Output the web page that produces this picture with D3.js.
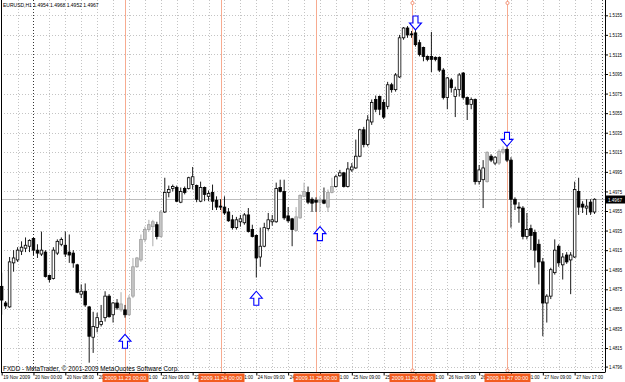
<!DOCTYPE html>
<html>
<head>
<meta charset="utf-8">
<script src="https://cdnjs.cloudflare.com/ajax/libs/d3/7.8.5/d3.min.js"></script>
<style>
body{margin:0;background:#fff;}
svg{display:block;font-family:"Liberation Sans",Arial,sans-serif;}
</style>
</head>
<body>
<svg id="chart" width="625" height="382"></svg>
<script>
// EURUSD H1, 19 Nov 16:00 .. 27 Nov 21:00 (one entry per bar)
var opens = [1.4878,1.4861,1.4857,1.4902,1.4905,1.4914,1.4917,1.4919,1.4927,1.4915,
1.4911,1.4913,1.4889,1.4886,1.4912,1.4921,1.4920,1.4913,1.4912,1.4900,
1.4870,1.4873,1.4857,1.4826,1.4836,1.4839,1.4846,1.4868,1.4849,1.4861,
1.4854,1.4854,1.4849,1.4868,1.4898,1.4905,1.4926,1.4936,1.4939,1.4941,
1.4929,1.4954,1.4974,1.4978,1.4979,1.4964,1.4978,1.4978,1.4982,1.4981,
1.4965,1.4979,1.4970,1.4974,1.4966,1.4960,1.4959,1.4954,1.4946,1.4938,
1.4944,1.4943,1.4951,1.4936,1.4930,1.4908,1.4919,1.4937,1.4944,1.4944,
1.4979,1.4975,1.4950,1.4947,1.4935,1.4948,1.4970,1.4974,1.4967,1.4966,
1.4964,1.4966,1.4959,1.4974,1.4980,1.4991,1.4994,1.4980,1.4997,1.4999,
1.5011,1.5038,1.5023,1.5046,1.5069,1.5072,1.5066,1.5062,1.5084,1.5079,
1.5092,1.5132,1.5142,1.5136,1.5137,1.5127,1.5122,1.5113,1.5113,1.5112,
1.5112,1.5099,1.5071,1.5089,1.5072,1.5079,1.5096,1.5071,1.5064,1.5069,
1.4985,1.4987,1.4985,1.5011,1.5004,1.5004,1.5015,1.5018,1.5007,1.4967,
1.4959,1.4958,1.4929,1.4937,1.4933,1.4921,1.4903,1.4861,1.4868,1.4892,
1.4919,1.4900,1.4910,1.4905,1.4908,1.4975,1.4962,1.4958,1.4964,1.4954];
var highs = [1.4892,1.4863,1.4908,1.4915,1.4918,1.4924,1.4928,1.4926,1.4928,1.4921,
1.4934,1.4915,1.4890,1.4918,1.4926,1.4928,1.4934,1.4931,1.4915,1.4901,
1.4880,1.4881,1.4858,1.4852,1.4851,1.4859,1.4873,1.4870,1.4862,1.4865,
1.4872,1.4859,1.4869,1.4907,1.4908,1.4931,1.4939,1.4946,1.4946,1.4944,
1.4956,1.4989,1.4981,1.4982,1.4981,1.4979,1.4980,1.4990,1.5000,1.4982,
1.4985,1.4980,1.4976,1.4982,1.4970,1.4967,1.4970,1.4958,1.4951,1.4949,
1.4951,1.4953,1.4958,1.4941,1.4931,1.4938,1.4943,1.4953,1.4951,1.4984,
1.4987,1.4987,1.4959,1.4948,1.4959,1.4972,1.4984,1.4980,1.4969,1.4969,
1.4970,1.4979,1.4977,1.4989,1.4992,1.4997,1.4995,1.5005,1.5004,1.5028,
1.5039,1.5041,1.5053,1.5069,1.5073,1.5073,1.5069,1.5087,1.5086,1.5096,
1.5135,1.5143,1.5144,1.5139,1.5140,1.5130,1.5123,1.5114,1.5138,1.5113,
1.5113,1.5101,1.5092,1.5091,1.5082,1.5096,1.5097,1.5072,1.5071,1.5070,
1.5002,1.5007,1.5016,1.5013,1.5011,1.5018,1.5021,1.5020,1.5010,1.4969,
1.4964,1.4960,1.4953,1.4941,1.4936,1.4926,1.4907,1.4870,1.4897,1.4926,
1.4921,1.4912,1.4913,1.4913,1.4985,1.4989,1.4965,1.4967,1.4967,1.4968];
var lows = [1.4849,1.4855,1.4856,1.4893,1.4903,1.4910,1.4913,1.4913,1.4910,1.4907,
1.4909,1.4887,1.4882,1.4885,1.4910,1.4919,1.4908,1.4902,1.4897,1.4871,
1.4866,1.4857,1.4800,1.4810,1.4831,1.4837,1.4842,1.4846,1.4841,1.4854,
1.4852,1.4846,1.4848,1.4866,1.4897,1.4903,1.4923,1.4934,1.4919,1.4926,
1.4928,1.4953,1.4969,1.4975,1.4964,1.4963,1.4972,1.4977,1.4977,1.4964,
1.4964,1.4965,1.4965,1.4956,1.4956,1.4956,1.4951,1.4944,1.4936,1.4936,
1.4939,1.4941,1.4933,1.4928,1.4887,1.4898,1.4918,1.4935,1.4940,1.4943,
1.4974,1.4946,1.4943,1.4919,1.4934,1.4947,1.4969,1.4962,1.4954,1.4954,
1.4954,1.4962,1.4954,1.4973,1.4979,1.4990,1.4979,1.4979,1.4995,1.4998,
1.5010,1.5020,1.5021,1.5043,1.5056,1.5053,1.5049,1.5059,1.5076,1.5077,
1.5091,1.5130,1.5132,1.5132,1.5123,1.5113,1.5108,1.5108,1.5097,1.5108,
1.5097,1.5069,1.5059,1.5076,1.5051,1.5072,1.5069,1.5048,1.5059,1.4982,
1.4982,1.4958,1.4984,1.5005,1.5002,1.5002,1.5013,1.5005,1.4938,1.4956,
1.4943,1.4926,1.4926,1.4915,1.4897,1.4880,1.4827,1.4841,1.4865,1.4890,
1.4898,1.4885,1.4901,1.4870,1.4907,1.4951,1.4953,1.4951,1.4951,1.4952];
var closes = [1.4864,1.4858,1.4903,1.4907,1.4915,1.4918,1.4920,1.4925,1.4915,1.4912,
1.4915,1.4888,1.4885,1.4915,1.4924,1.4926,1.4911,1.4910,1.4902,1.4872,
1.4873,1.4859,1.4827,1.4837,1.4846,1.4842,1.4868,1.4847,1.4861,1.4856,
1.4860,1.4849,1.4866,1.4898,1.4907,1.4926,1.4936,1.4941,1.4944,1.4929,
1.4954,1.4974,1.4977,1.4980,1.4965,1.4975,1.4974,1.4989,1.4990,1.4967,
1.4979,1.4972,1.4973,1.4965,1.4959,1.4959,1.4953,1.4945,1.4938,1.4946,
1.4947,1.4951,1.4934,1.4929,1.4907,1.4919,1.4938,1.4946,1.4946,1.4978,
1.4975,1.4948,1.4945,1.4936,1.4949,1.4971,1.4975,1.4964,1.4963,1.4964,
1.4966,1.4963,1.4974,1.4980,1.4990,1.4994,1.4980,1.4998,1.5000,1.5011,
1.5038,1.5023,1.5048,1.5066,1.5059,1.5059,1.5051,1.5084,1.5079,1.5094,
1.5132,1.5142,1.5135,1.5135,1.5125,1.5115,1.5113,1.5110,1.5110,1.5110,
1.5099,1.5071,1.5091,1.5081,1.5079,1.5094,1.5071,1.5064,1.5069,1.4985,
1.4997,1.4999,1.5015,1.5007,1.5010,1.5016,1.5018,1.5007,1.4967,1.4962,
1.4958,1.4929,1.4936,1.4930,1.4915,1.4903,1.4861,1.4868,1.4895,1.4915,
1.4902,1.4908,1.4903,1.4910,1.4977,1.4959,1.4959,1.4960,1.4954,1.4967];
// bars painted grey on the chart
var grayBars = [30,32,33,34,35,36,37,38,40,74,75,76,80,82,83,122,125,126];

var timeLabels = ["19 Nov 2009","20 Nov 00:00","20 Nov 08:00","20 Nov 16:00","23 Nov 01:00",
"23 Nov 09:00","23 Nov 17:00","24 Nov 01:00","24 Nov 09:00","24 Nov 17:00","25 Nov 01:00",
"25 Nov 09:00","25 Nov 17:00","26 Nov 01:00","26 Nov 09:00","26 Nov 17:00","27 Nov 01:00",
"27 Nov 09:00","27 Nov 17:00"];
var labelBars = [0,8,16,24,32,40,48,56,64,72,80,88,96,104,112,120,128,136,144];
var gridBars = [4,8,12,16,20,24,28,32,36,40,44,48,52,56,60,64,68,72,76,80,84,88,92,96,
100,104,108,112,116,120,124,128,132,136,140,144,148];
var priceTicks = [1.5155,1.5135,1.5115,1.5095,1.5075,1.5055,1.5035,1.5015,1.4995,1.4975,
1.4955,1.4935,1.4915,1.4895,1.4875,1.4855,1.4835,1.4815,1.4796];
var daySeps = [8];
var lineBars = [31,55,79,103,127];
var lineLabels = ["2009.11.23 00:00","2009.11.24 00:00","2009.11.25 00:00","2009.11.26 00:00","2009.11.27 00:00"];
var arrowBars = [31,64,80,104,127];
var arrowDirs = ["up","up","up","down","down"];
var arrowTips = [1.4829,1.4873,1.4939,1.5140,1.5021];
var lastPrice = 1.4967;
var header = "EURUSD,H1  1.4954 1.4968 1.4952 1.4967";
var copyright = "FXDD - MetaTrader, \u00a9 2001-2009 MetaQuotes Software Corp.";

var svg = d3.select("#chart");
var right = 605, bottom = 372.5;

var x = d3.scaleLinear().domain([31,127]).range([125,507]);
var y = d3.scaleLinear().domain([1.4815,1.5155]).range([348,15.3]);

var bars = d3.range(opens.length).map(function(i){
  return {i:i, o:opens[i], h:highs[i], l:lows[i], c:closes[i], gray:grayBars.indexOf(i)>=0};
});

// grid
svg.append("g").selectAll("line").data(priceTicks).enter().append("line")
  .attr("x1",1).attr("x2",right).attr("y1",function(d){return Math.round(y(d))+0.5;})
  .attr("y2",function(d){return Math.round(y(d))+0.5;})
  .attr("stroke","#c4c4c4").attr("stroke-dasharray","1,2");
svg.append("g").selectAll("line").data(gridBars).enter().append("line")
  .attr("x1",function(d){return Math.round(x(d))+0.5;}).attr("x2",function(d){return Math.round(x(d))+0.5;})
  .attr("y1",0).attr("y2",bottom)
  .attr("stroke","#c4c4c4").attr("stroke-dasharray","1,2");
svg.append("g").selectAll("line").data(daySeps).enter().append("line")
  .attr("x1",function(d){return Math.round(x(d))+0.5;}).attr("x2",function(d){return Math.round(x(d))+0.5;})
  .attr("y1",0).attr("y2",bottom)
  .attr("stroke","#333").attr("stroke-dasharray","1,2");
svg.append("line").attr("x1",602.5).attr("x2",602.5).attr("y1",0).attr("y2",bottom)
  .attr("stroke","#555").attr("stroke-dasharray","1,2");

// bid line
svg.append("line").attr("x1",1).attr("x2",right).attr("y1",Math.round(y(lastPrice))+0.5)
  .attr("y2",Math.round(y(lastPrice))+0.5).attr("stroke","#bdbdbd");

// vertical marker lines
svg.append("g").selectAll("line").data(lineBars).enter().append("line")
  .attr("x1",function(d){return Math.round(x(d))+0.5;}).attr("x2",function(d){return Math.round(x(d))+0.5;})
  .attr("y1",0).attr("y2",bottom).attr("stroke","#f7ab90");
svg.append("g").selectAll("circle").data(lineBars.slice(3)).enter().append("circle")
  .attr("cx",function(d){return Math.round(x(d))+0.5;}).attr("cy",3).attr("r",1.6)
  .attr("fill","#fff").attr("stroke","#f08060").attr("stroke-width",0.8);
svg.append("g").selectAll("circle").data(lineBars.slice(3)).enter().append("circle")
  .attr("cx",function(d){return Math.round(x(d))+0.5;}).attr("cy",bottom-2).attr("r",1.6)
  .attr("fill","#fff").attr("stroke","#f08060").attr("stroke-width",0.8);

// candles
var cg = svg.append("g");
cg.selectAll("line").data(bars).enter().append("line")
  .attr("x1",function(d){return x(d.i);}).attr("x2",function(d){return x(d.i);})
  .attr("y1",function(d){return y(d.h);}).attr("y2",function(d){return y(d.l);})
  .attr("stroke",function(d){return d.gray?"#a2a2a2":"#000";}).attr("stroke-width",0.9);
cg.selectAll("rect").data(bars).enter().append("rect")
  .attr("x",function(d){return x(d.i)-1.3;}).attr("width",2.6)
  .attr("y",function(d){return y(Math.max(d.o,d.c));})
  .attr("height",function(d){return Math.max(0.4,Math.abs(y(d.o)-y(d.c)));})
  .attr("fill",function(d){ if(d.gray) return "#c6c6c6"; return d.c>=d.o?"#fff":"#000";})
  .attr("stroke",function(d){return d.gray?"#9e9e9e":"#000";}).attr("stroke-width",0.8);

// arrows
function arrowPath(cx,tip,dir){
  var s = dir==="up"?1:-1;
  return "M"+cx+","+tip+"L"+(cx+6)+","+(tip+7*s)+"L"+(cx+2.5)+","+(tip+7*s)+"L"+(cx+2.5)+","+(tip+14*s)+
    "L"+(cx-2.5)+","+(tip+14*s)+"L"+(cx-2.5)+","+(tip+7*s)+"L"+(cx-6)+","+(tip+7*s)+"Z";
}
svg.append("g").selectAll("path").data(arrowBars).enter().append("path")
  .attr("d",function(d,k){return arrowPath(x(d),y(arrowTips[k]),arrowDirs[k]);})
  .attr("fill","#fff").attr("stroke","#0000ff").attr("stroke-width",1.1);

// price axis
var ya = svg.append("g").attr("transform","translate("+right+",0)")
  .call(d3.axisRight(y).tickValues(priceTicks).tickSize(3).tickPadding(1).tickFormat(d3.format(".4f")));
ya.select(".domain").remove();
ya.selectAll("text").attr("font-size",5.2).attr("font-family","Liberation Sans,Arial,sans-serif")
  .attr("textLength",13).attr("lengthAdjust","spacingAndGlyphs");

// time axis
var xa = svg.append("g").attr("transform","translate(0,"+bottom+")")
  .call(d3.axisBottom(x).tickValues(labelBars).tickSize(3).tickFormat(function(d,k){return timeLabels[k];}));
xa.select(".domain").remove();
xa.selectAll("text").attr("font-size",5.2).attr("font-family","Liberation Sans,Arial,sans-serif")
  .attr("text-anchor","start").attr("dx",1).attr("y",3).attr("dy","0.71em")
  .attr("textLength",27).attr("lengthAdjust","spacingAndGlyphs");

// frame
svg.append("line").attr("x1",1.5).attr("x2",1.5).attr("y1",0).attr("y2",bottom).attr("stroke","#000");
svg.append("line").attr("x1",right+0.5).attr("x2",right+0.5).attr("y1",0).attr("y2",bottom).attr("stroke","#000");
svg.append("line").attr("x1",1).attr("x2",right).attr("y1",bottom).attr("y2",bottom).attr("stroke","#000");

// date tags of the marker lines
var tags = svg.append("g").selectAll("g").data(lineBars).enter().append("g")
  .attr("transform",function(d){return "translate("+(Math.round(x(d))+0.5)+","+(bottom+1)+")";});
tags.append("rect").attr("x",-23).attr("y",0).attr("width",46).attr("height",9).attr("fill","#f25c1f");
tags.append("text").attr("x",0).attr("y",6.8).attr("text-anchor","middle").attr("fill","#fff")
  .attr("font-size",5.4).text(function(d,k){return lineLabels[k];});

// current price tag
var ly = Math.round(y(lastPrice))+0.5;
svg.append("rect").attr("x",right+1).attr("y",ly-4).attr("width",19).attr("height",8).attr("fill","#000");
svg.append("text").attr("x",right+3).attr("y",ly+2).attr("fill","#fff").attr("font-size",5.2)
  .attr("textLength",14).attr("lengthAdjust","spacingAndGlyphs").text(d3.format(".4f")(lastPrice));

svg.append("text").attr("x",3).attr("y",7).attr("font-size",5).attr("fill","#000").text(header);
svg.append("text").attr("x",3).attr("y",bottom-2).attr("font-size",6.4).attr("fill","#000")
  .attr("textLength",176).attr("lengthAdjust","spacingAndGlyphs").text(copyright);
</script>
</body>
</html>
